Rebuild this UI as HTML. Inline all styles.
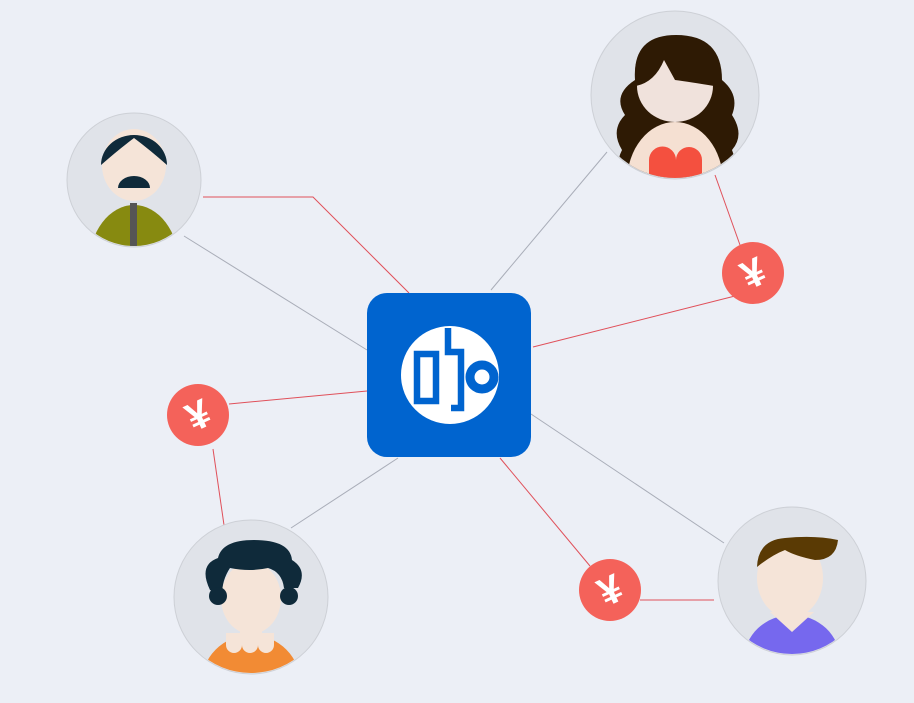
<!DOCTYPE html>
<html><head><meta charset="utf-8"><style>
html,body{margin:0;padding:0;background:#eceff6;}
svg{display:block}
</style></head><body>
<svg width="914" height="703" viewBox="0 0 914 703" xmlns="http://www.w3.org/2000/svg">
<defs>
<clipPath id="c1"><circle cx="134" cy="180" r="66"/></clipPath>
<clipPath id="c2"><circle cx="675" cy="95" r="83"/></clipPath>
<clipPath id="c3"><circle cx="251" cy="597" r="76"/></clipPath>
<clipPath id="c4"><circle cx="792" cy="581" r="73"/></clipPath>
</defs>
<rect width="914" height="703" fill="#eceff6"/>
<g stroke="#a9adb8" stroke-width="1" fill="none">
<line x1="184" y1="236" x2="367" y2="350"/>
<line x1="491" y1="290" x2="607" y2="152"/>
<line x1="291" y1="528" x2="398" y2="458"/>
<line x1="531" y1="414" x2="724" y2="543"/>
</g>
<g stroke="#e0505a" stroke-width="1" fill="none">
<polyline points="203,197 313,197 409,293"/>
<line x1="533" y1="347" x2="735" y2="296"/>
<line x1="715" y1="175" x2="740" y2="245"/>
<line x1="229" y1="404" x2="367" y2="391"/>
<line x1="213" y1="449" x2="224" y2="525"/>
<line x1="500" y1="458" x2="590" y2="566"/>
<line x1="640" y1="600" x2="714" y2="600"/>
</g>
<!-- center -->
<rect x="367" y="293" width="164" height="164" rx="20" fill="#0064cf"/>
<circle cx="450" cy="375" r="49" fill="#fff"/>
<g fill="none" stroke="#0064cf" stroke-width="6.5">
<rect x="417" y="354" width="19" height="47"/>
<polyline points="448,328 448,352 461,352 461,408 451,408"/>
</g>
<circle cx="482" cy="377" r="12" fill="none" stroke="#0064cf" stroke-width="9"/>
<!-- avatar 1 -->
<circle cx="134" cy="180" r="67" fill="#e0e3e9" stroke="#cdd0d6"/>
<g clip-path="url(#c1)">
<ellipse cx="134" cy="265" rx="45" ry="60" fill="#878a10"/>
<rect x="130" y="203" width="7" height="50" fill="#555"/>
<ellipse cx="134" cy="165" rx="32" ry="36" fill="#f5e4d8"/>
<path d="M101,165 A33,30 0 0 1 167,165 Q150,150 134,138 Q118,150 101,165Z" fill="#0f2a3a"/>
<path d="M118,188 A16,12 0 0 1 150,188Z" fill="#0f2a3a"/>
</g>
<!-- avatar 2 -->
<circle cx="675" cy="95" r="84" fill="#e0e3e9" stroke="#cdd0d6"/>
<g clip-path="url(#c2)">
<path d="M635,80 Q632,35 676,35 Q722,35 722,80 Q740,95 732,115 Q745,135 732,150 Q740,170 725,185 L628,185 Q612,170 622,150 Q610,130 625,115 Q612,95 635,80Z" fill="#2e1a04"/>
<ellipse cx="675" cy="182" rx="48" ry="60" fill="#f5e0d2"/>
<ellipse cx="675" cy="86" rx="38" ry="36" fill="#f0e2dc"/>
<path d="M636,86 Q655,82 664,60 L675,80 Q690,82 714,86 Q718,38 675,38 Q632,38 636,86Z" fill="#2e1a04"/>
<path d="M649,185 L649,160 A13,13 0 0 1 676,160 A13,13 0 0 1 702,160 L702,185Z" fill="#f4503f"/>
</g>
<!-- avatar 3 -->
<circle cx="251" cy="597" r="77" fill="#e0e3e9" stroke="#cdd0d6"/>
<g clip-path="url(#c3)">
<ellipse cx="251" cy="685" rx="50" ry="50" fill="#f28b34"/>
<rect x="240" y="615" width="22" height="30" fill="#f5e4d8"/>
<path d="M226,645 A8,8 0 0 0 242,645 A8,8 0 0 0 258,645 A8,8 0 0 0 274,645 L274,633 L226,633Z" fill="#f5e4d8"/>
<ellipse cx="251" cy="598" rx="30" ry="36" fill="#f5e4d8"/>
<path d="M210,590 Q198,565 218,558 Q222,540 254,540 Q290,540 292,560 Q308,570 298,588 L284,588 Q282,572 268,568 Q250,572 230,568 Q222,580 222,595Z" fill="#0f2a3a"/>
<circle cx="218" cy="596" r="9" fill="#0f2a3a"/>
<circle cx="289" cy="596" r="9" fill="#0f2a3a"/>
</g>
<!-- avatar 4 -->
<circle cx="792" cy="581" r="74" fill="#e0e3e9" stroke="#cdd0d6"/>
<g clip-path="url(#c4)">
<ellipse cx="792" cy="660" rx="48" ry="45" fill="#7668ee"/>
<path d="M770,612 L792,632 L814,612Z" fill="#f5e4d8"/>
<ellipse cx="790" cy="578" rx="33" ry="40" fill="#f5e4d8"/>
<path d="M757,567 Q758,540 785,538 Q815,535 838,540 Q836,560 815,560 Q795,556 785,550 Q772,555 757,567Z" fill="#5a3a04"/>
</g>
<!-- yen -->
<g font-family="Liberation Sans, sans-serif" font-weight="bold" font-size="40" fill="#fff" text-anchor="middle">
<circle cx="753" cy="273" r="31" fill="#f4625a"/>
<text x="753" y="287" transform="rotate(-25 753 273)">¥</text>
<circle cx="198" cy="415" r="31" fill="#f4625a"/>
<text x="198" y="429" transform="rotate(-25 198 415)">¥</text>
<circle cx="610" cy="590" r="31" fill="#f4625a"/>
<text x="610" y="604" transform="rotate(-25 610 590)">¥</text>
</g>
</svg>
</body></html>
